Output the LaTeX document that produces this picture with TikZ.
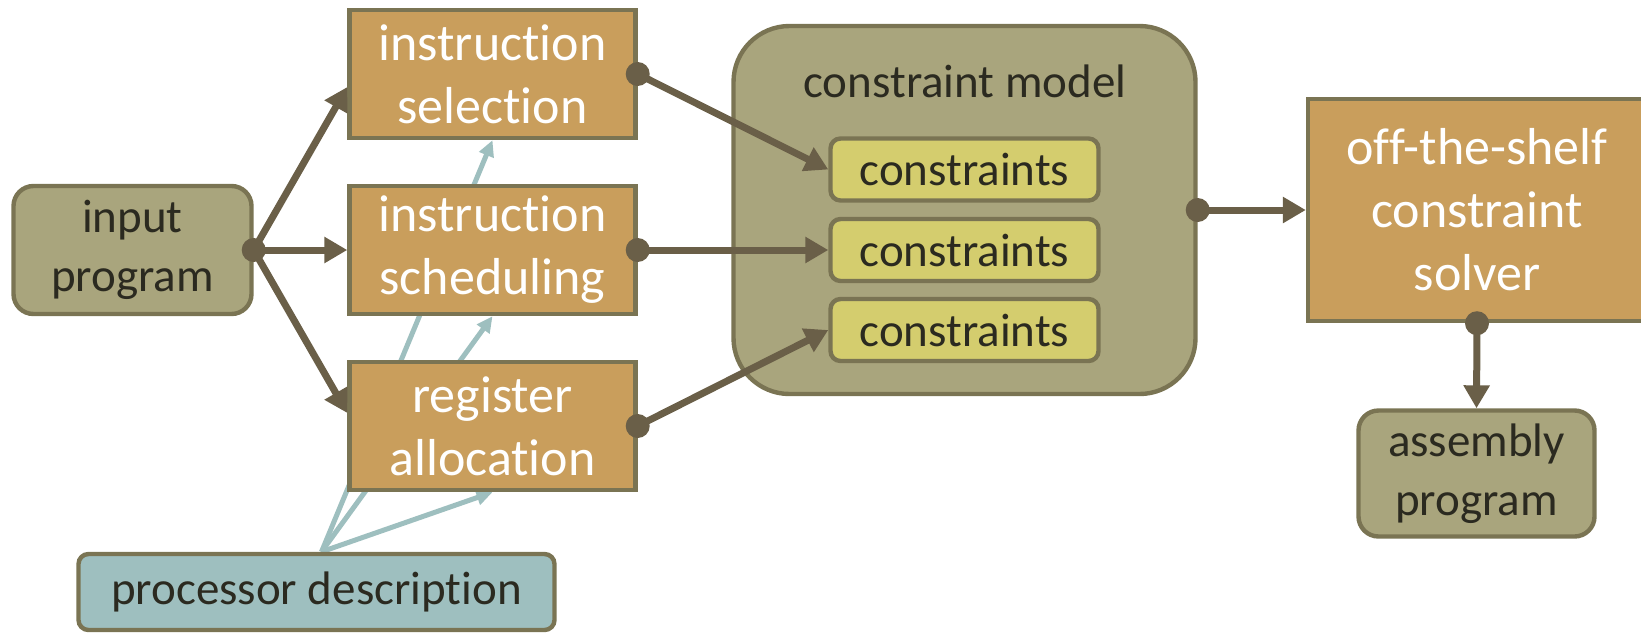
\documentclass[tikz,border=0pt]{standalone}
\usepackage{fontspec}
\setmainfont{Carlito}[Ligatures=NoCommon]
\usetikzlibrary{arrows.meta,calc}
\pgfdeclarelayer{bg}
\pgfsetlayers{bg,main}
\definecolor{orangef}{HTML}{C99E5C}
\definecolor{olivef}{HTML}{A9A57D}
\definecolor{borderc}{HTML}{7A7453}
\definecolor{yellowf}{HTML}{D4CD6E}
\definecolor{bluef}{HTML}{9EBFBF}
\definecolor{arrowc}{HTML}{6A5F48}
\definecolor{textd}{HTML}{2B2A20}
\begin{document}
\begin{tikzpicture}[x=0.5pt,y=-0.5pt,
  box/.style={draw=borderc, line width=2.2pt, inner sep=0pt, align=center},
  stagebox/.style={box, fill=orangef, text=white, font=\fontsize{26}{31.5}\selectfont},
  olivebox/.style={box, fill=olivef, rounded corners=10pt, text=textd, font=\fontsize{23.5}{29.5}\selectfont},
  consbox/.style={box, fill=yellowf, rounded corners=5pt, text=textd, font=\fontsize{23.5}{29.5}\selectfont,
    minimum width=134pt, minimum height=31pt},
  darr/.style={draw=arrowc, line width=3.5pt, -{Triangle[length=11.5pt,width=12.5pt]}},
  barr/.style={draw=bluef, line width=2.5pt, -{Triangle[length=8pt,width=7.5pt]}},
  dotc/.style={fill=arrowc}
]
\useasboundingbox (0,0) rectangle (1641,633);

\node[olivebox, minimum width=119pt, minimum height=64pt] (in) at (132.5,250) {input\\program};
\node[stagebox, minimum width=143pt, minimum height=64pt] (sel) at (492.5,74) {instruction\\selection};
\node[stagebox, minimum width=143pt, minimum height=64pt] (sch) at (492.5,250) {instruction\\scheduling};
\node[stagebox, minimum width=143pt, minimum height=64pt] (ra) at (492.5,426) {register\\allocation};
\node[box, fill=bluef, rounded corners=5pt, text=textd, font=\fontsize{23.5}{29.5}\selectfont,
  minimum width=238pt, minimum height=38pt] (proc) at (316.5,592) {processor description};

\node[olivebox, rounded corners=28pt, minimum width=231pt, minimum height=184pt] (model) at (964.5,210) {};
\node[anchor=base, text=textd, font=\fontsize{23.5}{29.5}\selectfont, inner sep=0pt] (mtitle) at (965,97) {constraint model};
\node[consbox] (c1) at (964.5,169.5) {constraints};
\node[consbox] (c2) at (964.5,250) {constraints};
\node[consbox] (c3) at (964.5,330) {constraints};

\node[stagebox, minimum width=169pt, minimum height=111pt] (solver) at (1477,210) {off-the-shelf\\constraint\\solver};
\node[olivebox, minimum width=118pt, minimum height=63pt] (asm) at (1476.5,473.5) {assembly\\program};

\coordinate (pstart) at ($(proc.north)+(5,0)$);
\begin{pgfonlayer}{bg}
\draw[barr] (pstart) -- (sel.south);
\draw[barr] (pstart) -- (sch.south);
\draw[barr] (pstart) -- (ra.south);
\end{pgfonlayer}

\draw[darr] (in.east) -- ($(sel.west)+(0,13)$);
\draw[darr] (in.east) -- (sch.west);
\draw[darr] (in.east) -- ($(ra.west)+(0,-13)$);
\draw[darr] (sel.east) -- (c1.west);
\draw[darr] (sch.east) -- (c2.west);
\draw[darr] (ra.east) -- (c3.west);
\draw[darr] (model.east) -- (solver.west);
\draw[darr] (solver.south) -- (asm.north);

\foreach \p in {in.east, sel.east, sch.east, ra.east, model.east, solver.south}
  \fill[dotc] (\p) circle[radius=6pt];
\end{tikzpicture}
\end{document}
